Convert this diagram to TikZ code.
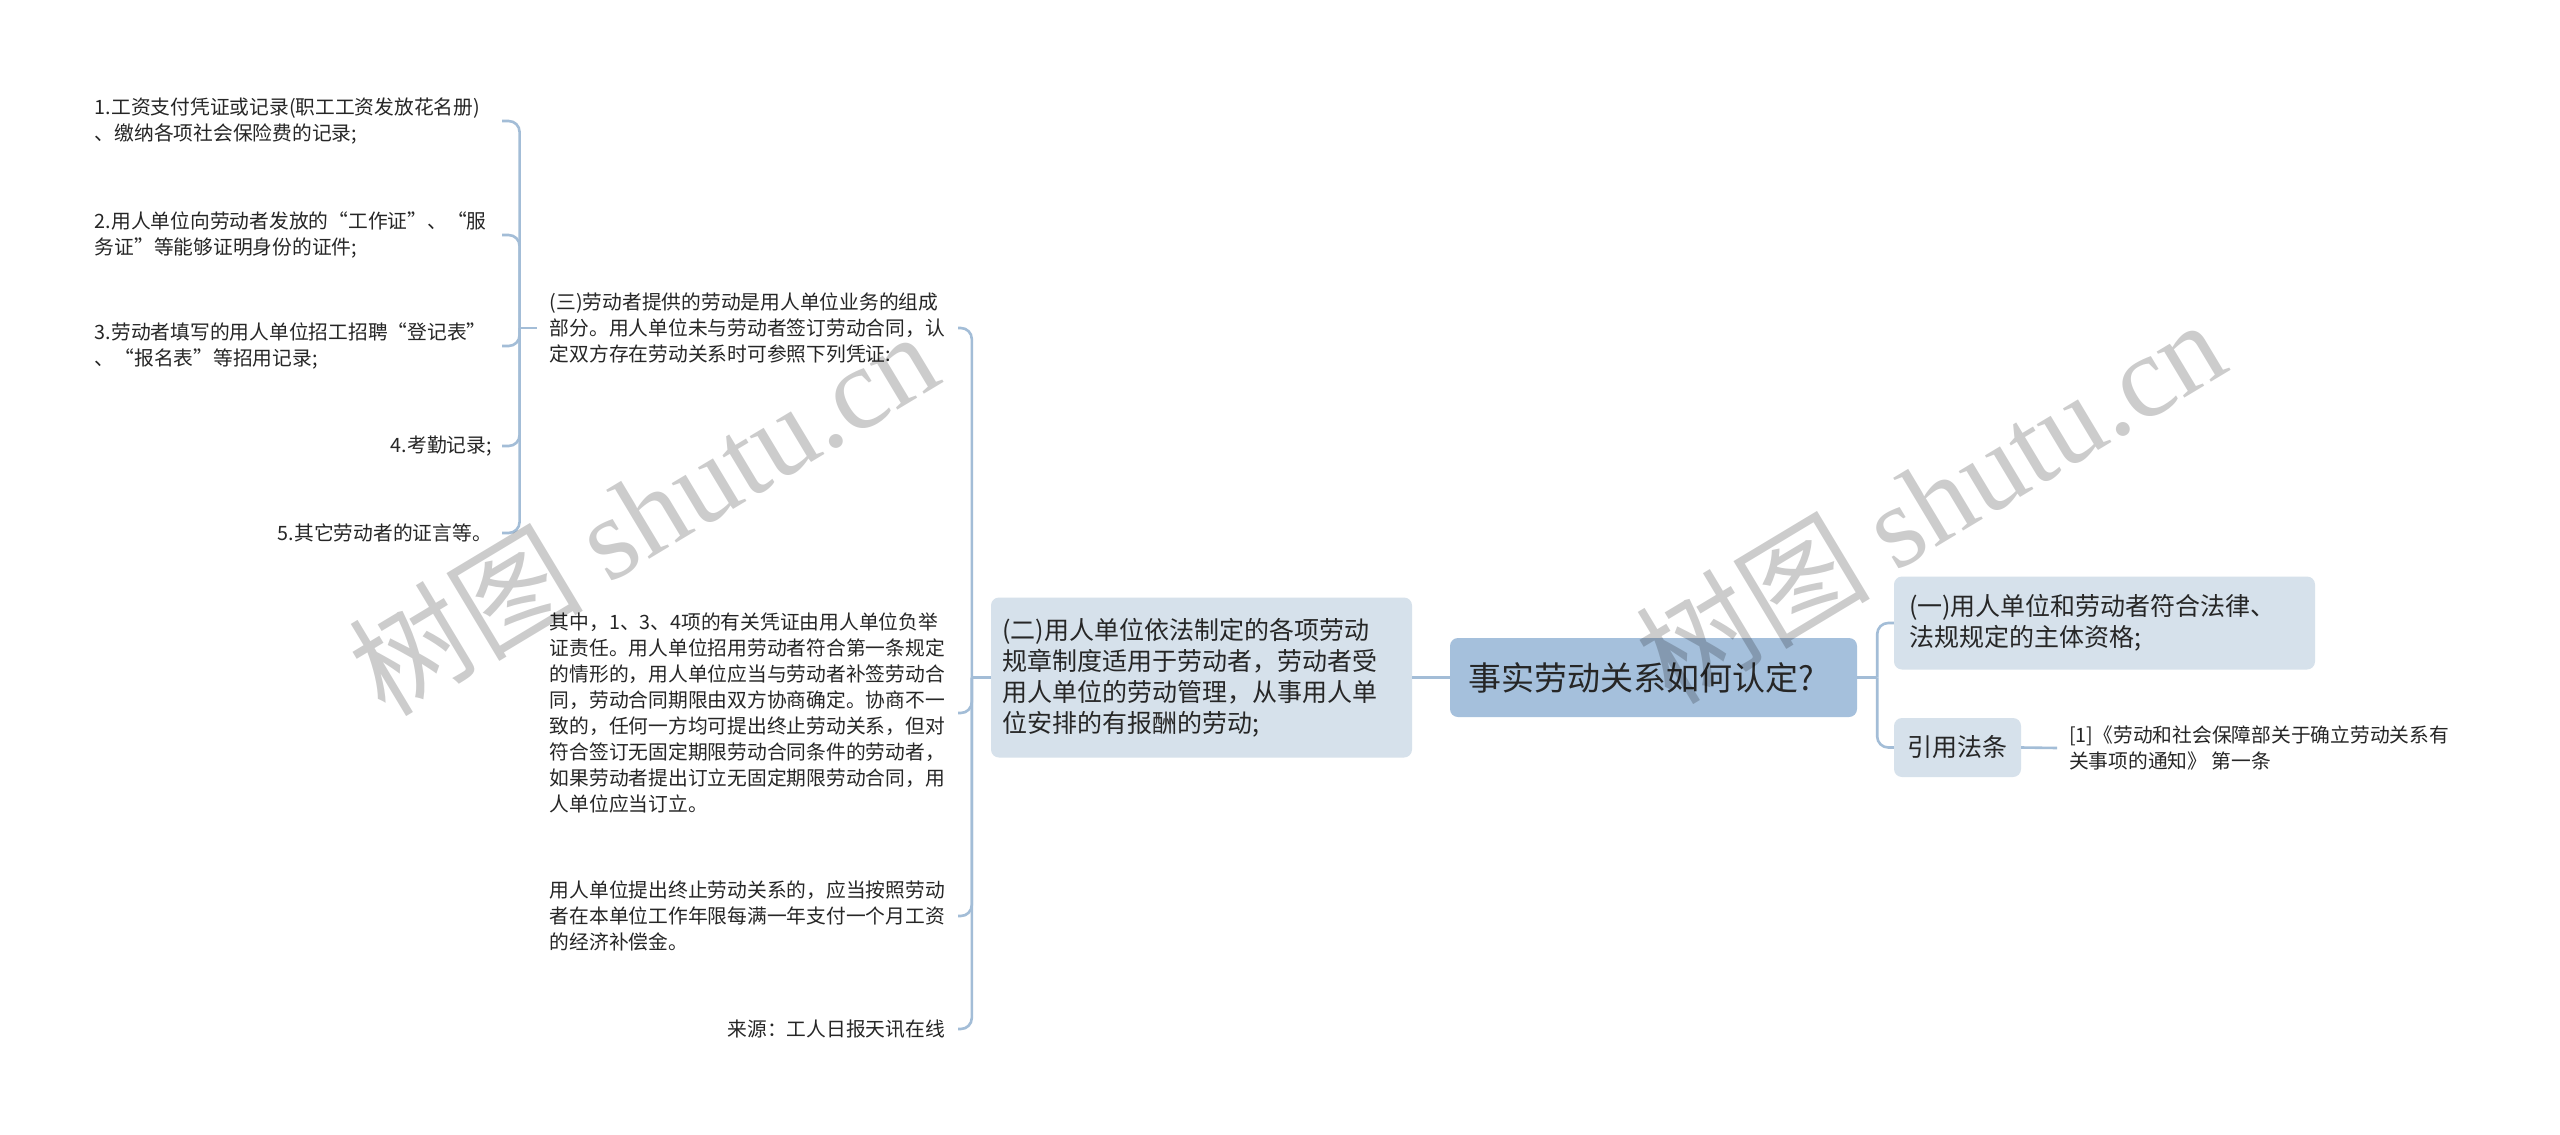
\documentclass[tikz,border=0pt]{standalone}
\usepackage{fontspec}
\setmainfont{Noto Sans CJK SC}
\newfontfamily\wmserif{Liberation Serif}
\newfontfamily\wmcjk{Noto Sans CJK SC}
\definecolor{rootfill}{HTML}{A5C0DC}
\definecolor{subfill}{HTML}{D6E1EB}
\definecolor{connc}{HTML}{A3BDD7}
\definecolor{txt}{HTML}{262626}
\tikzset{
  conn/.style={draw=connc, line width=2.6pt},
  rc/.style={rounded corners=11pt},
  rootbox/.style={fill=rootfill, rounded corners=8pt, text=txt,
    font=\fontsize{33pt}{40pt}\selectfont, inner xsep=18pt,
    text width=371pt, align=left, minimum height=79pt},
  subbox/.style={fill=subfill, rounded corners=8pt, text=txt,
    font=\fontsize{25pt}{31pt}\selectfont},
  leaf/.style={text=txt, font=\fontsize{19.75pt}{26pt}\selectfont, inner ysep=4pt},
  wmark/.style={text=black, text opacity=0.2, rotate=31}
}
\begin{document}
\begin{tikzpicture}[x=1pt,y=-1pt]
\useasboundingbox (0,0) rectangle (2560,1135);
\fill[white] (0,0) rectangle (2560,1135);

% central node
\node[rootbox] (root) at (1653.5,677.5) {事实劳动关系如何认定?};

% right branch
\node[subbox, text width=391pt, inner xsep=15pt, minimum height=93pt, align=left]
  (n1) at (2104.5,623) {(一)用人单位和劳动者符合法律、\\法规规定的主体资格;};
\node[subbox, minimum width=127pt, minimum height=59pt, align=center]
  (cite) at (1957.5,747.5) {引用法条};
\node[leaf, anchor=west, inner xsep=12pt, align=left]
  (ref) at (2057,748) {[1]《劳动和社会保障部关于确立劳动关系有\\关事项的通知》 第一条};

% left branch
\node[subbox, text width=398pt, inner xsep=11.5pt, minimum height=160pt, align=left]
  (n2) at (1201.5,677.5) {(二)用人单位依法制定的各项劳动\\规章制度适用于劳动者，劳动者受\\用人单位的劳动管理，从事用人单\\位安排的有报酬的劳动;};

\node[leaf, anchor=east, inner xsep=13pt, align=left] (n3) at (958,328)
  {(三)劳动者提供的劳动是用人单位业务的组成\\部分。用人单位未与劳动者签订劳动合同，认\\定双方存在劳动关系时可参照下列凭证:};
\node[leaf, anchor=east, inner xsep=13pt, align=left] (m2) at (958,713)
  {其中，1、3、4项的有关凭证由用人单位负举\\证责任。用人单位招用劳动者符合第一条规定\\的情形的，用人单位应当与劳动者补签劳动合\\同，劳动合同期限由双方协商确定。协商不一\\致的，任何一方均可提出终止劳动关系，但对\\符合签订无固定期限劳动合同条件的劳动者，\\如果劳动者提出订立无固定期限劳动合同，用\\人单位应当订立。};
\node[leaf, anchor=east, inner xsep=13pt, align=left] (m3) at (958,916)
  {用人单位提出终止劳动关系的，应当按照劳动\\者在本单位工作年限每满一年支付一个月工资\\的经济补偿金。};
\node[leaf, anchor=east, inner xsep=13pt] (m4) at (958,1029) {来源：工人日报天讯在线};

% far-left items
\node[leaf, anchor=east, inner xsep=10pt, text width=397pt, align=left] (i1) at (502,121)
  {1.工资支付凭证或记录(职工工资发放花名册)\\、缴纳各项社会保险费的记录;};
\node[leaf, anchor=east, inner xsep=10pt, text width=397pt, align=left] (i2) at (502,235)
  {2.用人单位向劳动者发放的“工作证”、“服\\务证”等能够证明身份的证件;};
\node[leaf, anchor=east, inner xsep=10pt, text width=397pt, align=left] (i3) at (502,346)
  {3.劳动者填写的用人单位招工招聘“登记表”\\、“报名表”等招用记录;};
\node[leaf, anchor=east, inner xsep=10pt] (i4) at (502,446) {4.考勤记录;};
\node[leaf, anchor=east, inner xsep=10pt] (i5) at (502,533) {5.其它劳动者的证言等。};

% connectors
\draw[conn] (root.east) -- ++(20,0) coordinate (jR);
\draw[conn, rc] (jR) |- (n1.west);
\draw[conn, rc] (jR) |- (cite.west);
\draw[conn] (cite.east) -- (ref.west);

\draw[conn] (root.west) -- (n2.east);
\draw[conn] (n2.west) -- ++(-19,0) coordinate (jM);
\foreach \c in {n3,m2,m3,m4} \draw[conn, rc] (jM) |- (\c.east);

\draw[conn] (n3.west) -- ++(-17,0) coordinate (jL);
\foreach \c in {i1,i2,i3,i4,i5} \draw[conn, rc] (jL) |- (\c.east);

% watermarks
\node[wmark] (wm1) at (643,512) {\fontsize{117pt}{117pt}\wmcjk 树图 \wmserif shutu.cn};
\node[wmark] (wm2) at (1930,500) {\fontsize{117pt}{117pt}\wmcjk 树图 \wmserif shutu.cn};
\end{tikzpicture}
\end{document}
